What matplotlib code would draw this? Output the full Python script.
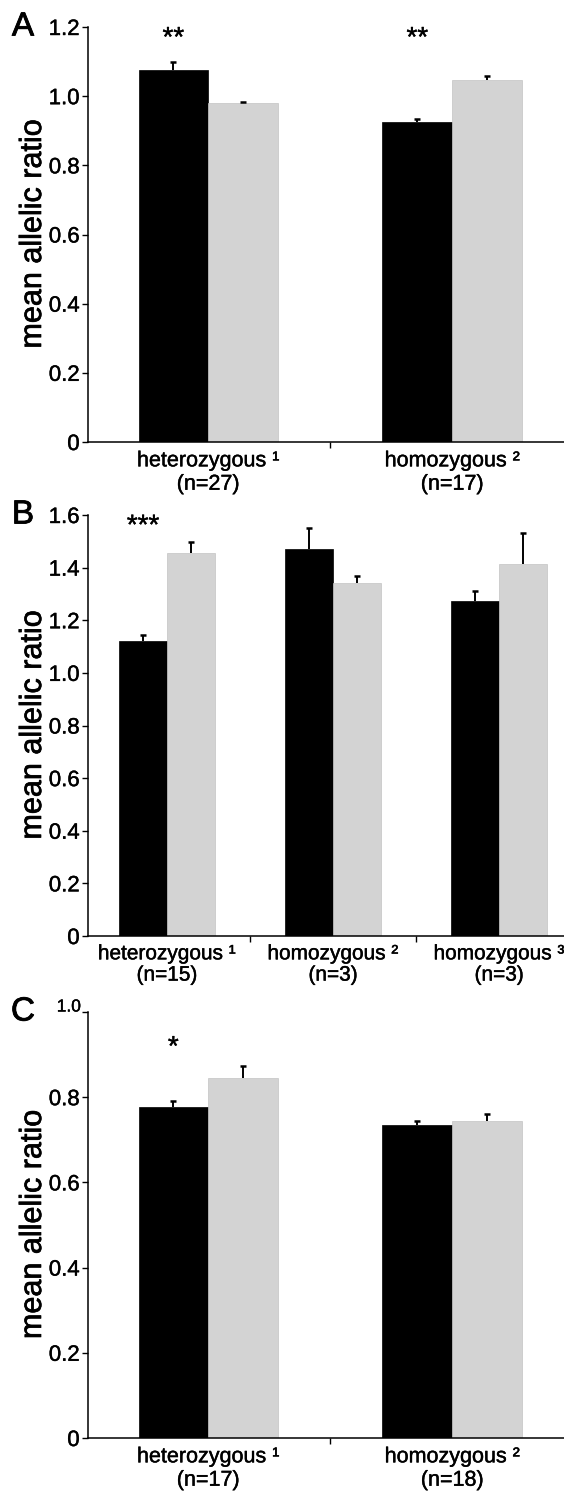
import matplotlib
matplotlib.use("Agg")
import matplotlib.pyplot as plt
import matplotlib.transforms as mtrans
import matplotlib.patheffects as pe
from matplotlib.ticker import FuncFormatter
import numpy as np

plt.rcParams['font.family'] = ['Liberation Sans', 'DejaVu Sans']

# ---------------- data ----------------
A_categories = ["heterozygous \u00b9\n(n=27)", "homozygous \u00b2\n(n=17)"]
A_black = [1.076, 0.924]
A_black_err = [0.023, 0.011]
A_gray = [0.979, 1.047]
A_gray_err = [0.003, 0.012]
A_sig = ["**", "**"]
A_sig_y = [1.165, 1.165]
A_yticks = [0, 0.2, 0.4, 0.6, 0.8, 1.0, 1.2]

B_categories = ["heterozygous \u00b9\n(n=15)", "homozygous \u00b2\n(n=3)", "homozygous \u00b3\n(n=3)"]
B_black = [1.12, 1.472, 1.275]
B_black_err = [0.025, 0.08, 0.035]
B_gray = [1.455, 1.34, 1.415]
B_gray_err = [0.042, 0.027, 0.115]
B_sig = ["***", "", ""]
B_sig_y = [1.555, 0, 0]
B_yticks = [0, 0.2, 0.4, 0.6, 0.8, 1.0, 1.2, 1.4, 1.6]

C_categories = ["heterozygous \u00b9\n(n=17)", "homozygous \u00b2\n(n=18)"]
C_black = [0.778, 0.735]
C_black_err = [0.013, 0.008]
C_gray = [0.844, 0.744]
C_gray_err = [0.029, 0.017]
C_sig = ["*", ""]
C_sig_y = [0.915, 0]
C_yticks = [0, 0.2, 0.4, 0.6, 0.8, 1.0]

panel_letters = ["A", "B", "C"]
y_label = "mean allelic ratio"

# ---------------- layout ----------------
W, H = 564, 1499
fig = plt.figure(figsize=(W / 100, H / 100), dpi=100)

BLACK = "#000000"
GRAY = "#d3d3d3"
THICK = [pe.withStroke(linewidth=0.3, foreground="black")]


def px_axes(left, top, right, bottom):
    return fig.add_axes([left / W, 1 - bottom / H, (right - left) / W, (bottom - top) / H])


def fmt(v, pos=None):
    if abs(v) < 1e-9:
        return "0"
    return f"{v:.1f}"


def whiskers(ax, xs, vals, errs):
    tops = np.asarray(vals) + np.asarray(errs)
    ax.vlines(xs, vals, tops, colors=BLACK, linewidth=1.4, zorder=3)
    ax.plot(xs, tops, linestyle="none", marker="_", markersize=4.5,
            markeredgewidth=1.8, color=BLACK, zorder=3)


def panel(ax, cats, black, black_err, gray, gray_err, sig, sig_y, yticks,
          xlim, width, letter, cat_size=15.5, hide_top_label=False):
    x = np.arange(len(cats))
    n = len(cats)
    ax.bar(x - width / 2, black, width, color=BLACK, edgecolor=BLACK,
           linewidth=0.5, zorder=2)
    ax.bar(x + width / 2, gray, width, color=GRAY, edgecolor="#c4c4c4",
           linewidth=0.5, zorder=2)
    whiskers(ax, x - width / 2, black, black_err)
    whiskers(ax, x + width / 2, gray, gray_err)
    for xi, s, sy in zip(x, sig, sig_y):
        if s:
            ax.text(xi - width / 2, sy, s, ha="center", va="center",
                    fontsize=20, color="black", path_effects=THICK)

    ax.set_xlim(*xlim)
    ax.set_ylim(yticks[0], yticks[-1])
    ax.set_yticks(yticks)
    if hide_top_label:
        top = yticks[-1]
        ax.yaxis.set_major_formatter(
            FuncFormatter(lambda v, p: "" if abs(v - top) < 1e-9 else fmt(v)))
        off = mtrans.offset_copy(ax.get_yaxis_transform(), fig=fig,
                                 x=-7, y=5, units="dots")
        ax.text(0, top, fmt(top), transform=off, ha="right", va="center",
                fontsize=12.5, path_effects=THICK)
    else:
        ax.yaxis.set_major_formatter(FuncFormatter(fmt))

    ax.set_xticks(x)
    ax.set_xticklabels(cats, fontsize=cat_size, linespacing=1.15)
    ax.set_xticks(np.arange(n - 1) + 0.5, minor=True)
    ax.tick_params(axis="x", which="major", length=0, pad=6)
    ax.tick_params(axis="x", which="minor", length=4, width=1, direction="out")
    ax.tick_params(axis="y", which="major", length=4, width=1, direction="out",
                   pad=2, labelsize=16)
    for lab in ax.get_xticklabels() + ax.get_yticklabels():
        lab.set_path_effects(THICK)

    for side in ("top", "right"):
        ax.spines[side].set_visible(False)
    for side in ("left", "bottom"):
        ax.spines[side].set_linewidth(1.1)

    bb = ax.get_position()
    fig.text(23 / W, bb.y1, letter, ha="center", va="center", fontsize=24,
             path_effects=[pe.withStroke(linewidth=0.6, foreground="black")])
    fig.text(33 / W, (bb.y0 + bb.y1) / 2, y_label, rotation=90,
             ha="center", va="center", fontsize=22,
             path_effects=[pe.withStroke(linewidth=0.5, foreground="black")])


axA = px_axes(88, 27, 564, 442)
panel(axA, A_categories, A_black, A_black_err, A_gray, A_gray_err, A_sig, A_sig_y,
      A_yticks, (-0.492, 1.459), 0.285, panel_letters[0])

axB = px_axes(88, 515, 564, 936)
panel(axB, B_categories, B_black, B_black_err, B_gray, B_gray_err, B_sig, B_sig_y,
      B_yticks, (-0.476, 2.39), 0.29, panel_letters[1], cat_size=15)

axC = px_axes(88, 1012, 564, 1438)
panel(axC, C_categories, C_black, C_black_err, C_gray, C_gray_err, C_sig, C_sig_y,
      C_yticks, (-0.492, 1.459), 0.285, panel_letters[2], hide_top_label=True)

fig.savefig("out.png", dpi=100)
